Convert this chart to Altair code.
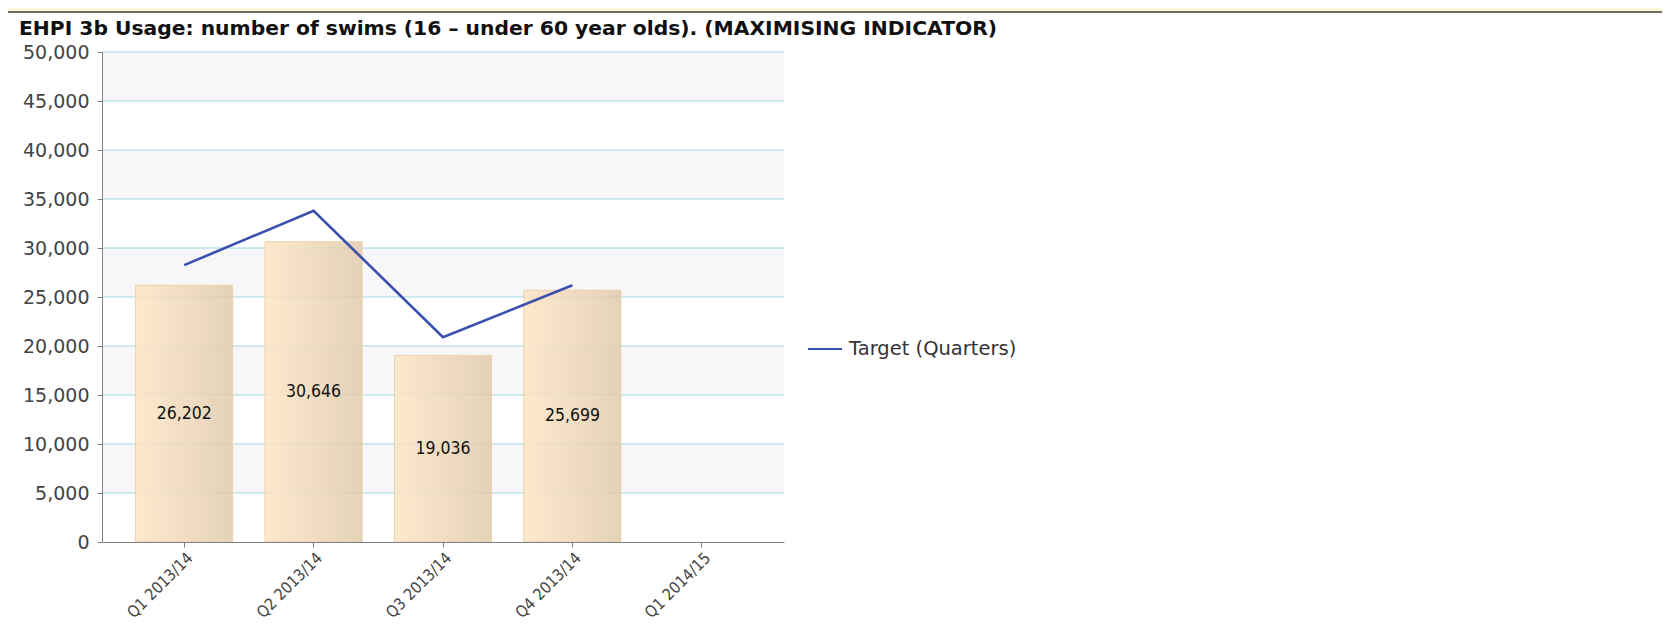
import altair as alt
import pandas as pd

# ---------------- data ----------------
quarters = ["Q1 2013/14", "Q2 2013/14", "Q3 2013/14", "Q4 2013/14", "Q1 2014/15"]
data_quarters = ["Q1 2013/14", "Q2 2013/14", "Q3 2013/14", "Q4 2013/14"]
actual = [26202, 30646, 19036, 25699]
target = [28250, 33800, 20900, 26200]
series_name = "Target (Quarters)"
y_ticks = [0, 5000, 10000, 15000, 20000, 25000, 30000, 35000, 40000, 45000, 50000]
stripe_lo = [5000, 15000, 25000, 35000, 45000]
stripe_hi = [10000, 20000, 30000, 40000, 50000]
title_text = ["EHPI 3b Usage: number of swims (16 \u2013 under 60 year olds). (MAXIMISING INDICATOR)"]

# ---------------- layout ----------------
W, H = 682, 490
PAD_L, PAD_T = 94, 44
TOTAL_W, TOTAL_H = 1654, 615

df = pd.DataFrame({"quarter": data_quarters, "actual": actual, "target": target,
                   "series": [series_name] * len(data_quarters)})
stripes = pd.DataFrame({"lo": stripe_lo, "hi": stripe_hi})
grid = pd.DataFrame({"v": y_ticks})
one = pd.DataFrame({"a": [0]})
title_df = pd.DataFrame({"t": title_text})

label_font = "DejaVu Sans"
cond_font = "DejaVu Sans Condensed"
line_color = "#3b4fae"

yscale = alt.Scale(domain=[0, 50000], nice=False, zero=True)
xscale = alt.Scale(domain=quarters, paddingInner=0.25, paddingOuter=0.26)

y_axis = alt.Axis(values=y_ticks, labelExpr="format(datum.value, ',')", grid=False, tickSize=5,
                  tickColor="#808080", domainColor="#808080", labelPadding=8, zindex=1,
                  labelFont=label_font, labelFontSize=19, labelColor="#444444")
x_axis = alt.Axis(labelAngle=-45, labelAlign="right", labelBaseline="middle",
                  labelPadding=8, labelOffset=6, tickSize=5, tickColor="#808080",
                  domainColor="#808080", labelFont=cond_font, labelFontSize=16,
                  labelColor="#444444", grid=False, zindex=1, labelLimit=300)

band_top = alt.Chart(one).mark_rect(color="#fcf8dc").encode(
    x=alt.value(-PAD_L), x2=alt.value(TOTAL_W), y=alt.value(-PAD_T), y2=alt.value(-PAD_T + 3))
band_line = alt.Chart(one).mark_rect(color="#6e6e60").encode(
    x=alt.value(-PAD_L), x2=alt.value(TOTAL_W), y=alt.value(-PAD_T + 3), y2=alt.value(-PAD_T + 5))

title_layer = alt.Chart(title_df).mark_text(
    align="left", baseline="alphabetic", font=label_font, fontSize=20.3,
    fontWeight="bold", color="#111111").encode(
    x=alt.value(-83), y=alt.value(-17), text="t:N")

stripe_layer = alt.Chart(stripes).mark_rect(color="#f7f7fa").encode(
    x=alt.value(0), x2=alt.value(W),
    y=alt.Y("lo:Q", scale=yscale, axis=y_axis, title=None),
    y2="hi:Q")

grid_layer = alt.Chart(grid).transform_filter("datum.v > 0").mark_rule(
    color="#9fd9e4", strokeWidth=1).encode(
    x=alt.value(0), x2=alt.value(W),
    y=alt.Y("v:Q", scale=yscale, axis=y_axis, title=None))

gradient = alt.Gradient(
    gradient="linear",
    stops=[alt.GradientStop(offset=0, color="#fee5c4"),
           alt.GradientStop(offset=1, color="#dfcaad")],
    x1=0, x2=1, y1=0, y2=0)

bars = alt.Chart(df).mark_bar(fill=gradient, stroke="#ecd3a8", strokeWidth=1, fillOpacity=0.85).encode(
    x=alt.X("quarter:N", scale=xscale, title=None, axis=x_axis),
    y=alt.Y("actual:Q", scale=yscale, title=None, axis=y_axis),
)

labels = alt.Chart(df).transform_calculate(mid="datum.actual / 2").mark_text(
    font=cond_font, fontSize=17.5, color="#111111").encode(
    x=alt.X("quarter:N", scale=xscale, title=None, axis=x_axis),
    y=alt.Y("mid:Q", scale=yscale, title=None, axis=y_axis),
    text=alt.Text("actual:Q", format=","))

line = alt.Chart(df).mark_line(strokeWidth=2.6).encode(
    x=alt.X("quarter:N", scale=xscale, title=None, axis=x_axis),
    y=alt.Y("target:Q", scale=yscale, title=None, axis=y_axis),
    color=alt.Color("series:N", scale=alt.Scale(domain=[series_name], range=[line_color]),
                    legend=alt.Legend(title=None, orient="none", legendX=705, legendY=279,
                                      symbolType="stroke", symbolSize=1156, symbolStrokeWidth=2,
                                      labelFont=label_font, labelFontSize=19.5, labelColor="#333333",
                                      labelOffset=6, padding=0, labelLimit=400)))

chart = alt.layer(band_top, band_line, title_layer, stripe_layer, grid_layer, bars, labels, line).properties(
    width=W, height=H,
    autosize=alt.AutoSizeParams(type="none"),
    padding={"left": PAD_L, "top": PAD_T, "right": TOTAL_W - PAD_L - W, "bottom": TOTAL_H - PAD_T - H},
).configure_view(stroke=None)

chart.save("out.html", embed_options={"renderer": "svg", "actions": False})
